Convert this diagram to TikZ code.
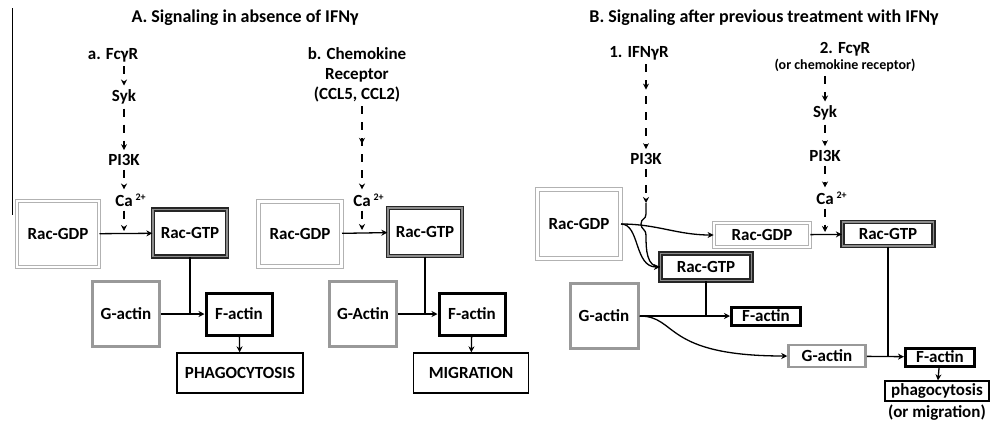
\documentclass[tikz,border=0pt]{standalone}
\usepackage{fontspec}
\setmainfont{Carlito}
\usetikzlibrary{arrows.meta,decorations.markings}

\newcommand{\calcium}{Ca\rlap{\,\raisebox{6pt}{\fontsize{10}{10}\selectfont 2+}}}

\begin{document}
\begin{tikzpicture}[x=1pt,y=-1pt,
        every node/.style={font=\bfseries\fontsize{17}{20}\selectfont, inner sep=0pt},
        lbl/.style={inner sep=4pt},
        title/.style={font=\bfseries\fontsize{18}{20}\selectfont},
        gdpbox/.style={rectangle, draw=black!30, double=white, double distance=2.5pt, line width=1pt},
        gtpbox/.style={rectangle, draw=black!85, double=black!45, double distance=1.5pt, line width=1.3pt},
        gactbox/.style={rectangle, draw=black!40, line width=3pt},
        factbox/.style={rectangle, draw=black, line width=3pt},
        endbox/.style={rectangle, draw=black, line width=1.3pt},
        tip/.style={-{Stealth[length=6pt,width=6pt]}},
        link/.style={line width=1.3pt},
        sig/.style={tip, line width=2.5pt, dash pattern=on 8pt off 8pt},
        midtip/.style={postaction={decorate}, decoration={markings, mark=at position #1 with {\arrow{Stealth[length=6pt,width=6pt]}}}}]
    \useasboundingbox (0,0) rectangle (991,424);
    \draw[line width=1pt] (12,8) -- (12,215);

    % A. without IFNg
    \node[title] (titlea) at (245,18) {A. Signaling in absence of IFNγ};
    \node[lbl] (fcra) at (113,55) {a. FcγR};
    \node[lbl] (syka) at (124,97) {Syk};
    \node[lbl] (pika) at (124,160) {PI3K};
    \node[lbl] (caa) at (124,200) {\calcium};
    \node[gdpbox, minimum width=82, minimum height=66] (rgdpa) at (58,234) {Rac-GDP};
    \node[gtpbox, minimum width=74, minimum height=47] (rgtpa) at (190,233) {Rac-GTP};
    \node[gactbox, minimum width=67, minimum height=65] (gacta) at (126,314) {G-actin};
    \node[factbox, minimum width=66, minimum height=42] (facta) at (239,314) {F-actin};
    \node[endbox, minimum width=126, minimum height=40] (phaga) at (240,373) {PHAGOCYTOSIS};
    \draw[sig] (fcra.south -| syka) -- (syka);
    \draw[sig] (syka) -- (pika);
    \draw[sig] (pika) -- (caa);
    \draw[sig, shorten >=2pt] (caa) -- (caa |- rgtpa.west);
    \draw[link, tip] (rgdpa) -- (rgtpa);
    \draw[link] (rgtpa) -- (rgtpa |- facta);
    \draw[link, tip] (gacta) -- (facta);
    \draw[link, tip] (facta) -- (phaga);

    \node[lbl, align=center] (chem) at (357,75) {b. Chemokine\\Receptor\\(CCL5, CCL2)};
    \node[lbl] (cab) at (362,200) {\calcium};
    \node[gdpbox, minimum width=83, minimum height=65] (rgdpb) at (300,234) {Rac-GDP};
    \node[gtpbox, minimum width=74, minimum height=48] (rgtpb) at (425,232) {Rac-GTP};
    \node[gactbox, minimum width=67, minimum height=65] (gactb) at (363,314) {G-Actin};
    \node[factbox, minimum width=66, minimum height=42] (factb) at (472,314) {F-actin};
    \node[endbox, minimum width=115, minimum height=40] (migb) at (471,373) {MIGRATION};
    \draw[sig, midtip=0.45] (chem.south -| cab) -- (cab);
    \draw[sig, shorten >=2pt] (cab) -- (cab |- rgtpb.west);
    \draw[link, tip] (rgdpb) -- (rgtpb);
    \draw[link] (rgtpb) -- (rgtpb |- factb);
    \draw[link, tip] (gactb) -- (factb);
    \draw[link, tip] (factb) -- (migb);

    % B. after IFNg
    \node[title] (titleb) at (764,18) {B. Signaling after previous treatment with IFNγ};
    \node[lbl] (ifnr) at (639,53) {1. IFNγR};
    \node[lbl] (pikc) at (646,159) {PI3K};
    \coordinate (jump) at (646,203);
    \node[lbl, align=center] (fcrd) at (845,57) {2. FcγR\\[-4pt]{\fontsize{14}{14}\selectfont (or chemokine receptor)}};
    \node[lbl] (sykd) at (825,113) {Syk};
    \node[lbl] (pikd) at (825,156) {PI3K};
    \node[lbl] (cad) at (825,198) {\calcium};
    \node[gdpbox, minimum width=83, minimum height=69] (rgdpc) at (579,224) {Rac-GDP};
    \node[gdpbox, line width=0.8pt, double distance=1.5pt, minimum width=96, minimum height=24] (rgdpd) at (762,235) {Rac-GDP};
    \node[gtpbox, minimum width=91, minimum height=27] (rgtpc) at (706,267) {Rac-GTP};
    \node[gtpbox, minimum width=91, minimum height=24] (rgtpd) at (888,234) {Rac-GTP};
    \node[gactbox, minimum width=68, minimum height=65] (gactc) at (604,316) {G-actin};
    \node[factbox, minimum width=69, minimum height=18] (factc) at (766,316) {F-actin};
    \node[gactbox, line width=2.5pt, minimum width=77, minimum height=22] (gactd) at (827,356) {G-actin};
    \node[factbox, minimum width=69, minimum height=18] (factd) at (940,357) {F-actin};
    \node[endbox, minimum width=104, minimum height=20] (phagd) at (937,391) {phagocytosis};
    \node[lbl] (migd) at (937,413) {(or migration)};
    \draw[sig, midtip=0.3] (ifnr.south -| pikc) -- (pikc);
    \draw[sig] (pikc) -- (jump);
    \draw[link] (jump) -- (646,214) .. controls (646,220) and (641,218) .. (641,224)
        .. controls (641,230) and (646,228) .. (646,236) to[out=-90,in=180] (rgtpc.west);
    \draw[link, tip] (rgdpc.east) to[out=0,in=180] (rgdpd.west);
    \draw[link, tip] (rgdpc.east) .. controls (640,224) and (634,267) .. (rgtpc.west);
    \draw[sig] (fcrd.south -| sykd) -- (sykd);
    \draw[sig] (sykd) -- (pikd);
    \draw[sig] (pikd) -- (cad);
    \draw[sig, shorten >=2pt] (cad) -- (cad |- rgtpd.west);
    \draw[link, tip] (rgdpd) -- (rgtpd);
    \draw[link] (rgtpc) -- (rgtpc |- factc);
    \draw[link, tip] (gactc) -- (factc);
    \draw[link, tip] (gactc.east) .. controls (678,316) and (662,356) .. (gactd.west);
    \draw[link] (rgtpd) -- (rgtpd |- factd);
    \draw[link, tip] (gactd) -- (factd);
    \draw[link, tip] (factd) -- (phagd);
\end{tikzpicture}
\end{document}
